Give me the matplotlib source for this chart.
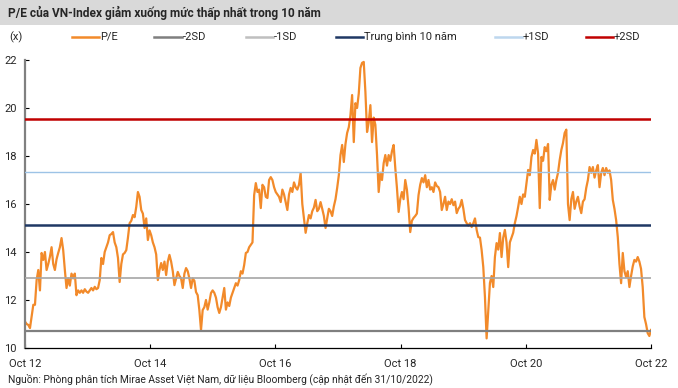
import pandas as pd
import matplotlib.pyplot as plt
from matplotlib.lines import Line2D

plt.rcParams['font.family'] = ['Roboto', 'DejaVu Sans']

# P/E of VN-Index (~every 10 days, Oct 2012 -> Oct 2022)
pe = [
    11.1, 11.0, 10.96, 10.83, 11.3, 11.8, 11.8, 12.83, 13.25, 12.4, 13.96, 13.67, 14.0, 13.25, 13.5, 13.8,
    14.2, 13.5, 13.25, 13.7, 13.96, 14.2, 14.58, 14.08, 13.25, 12.5, 12.9, 12.6, 13.1, 12.9, 13.1, 12.2,
    12.4, 12.3, 12.4, 12.3, 12.45, 12.35, 12.3, 12.4, 12.5, 12.4, 12.55, 12.45, 12.5, 12.83, 13.75, 13.5,
    14.0, 14.2, 14.4, 14.7, 14.75, 14.83, 14.4, 14.2, 13.75, 12.75, 13.5, 13.9, 13.96,
    14.08, 14.6, 15.2, 15.3, 15.54, 15.45, 15.88, 16.5, 16.3, 15.75, 15.6, 15.0, 15.4, 14.5, 14.9, 14.7,
    14.4, 14.2, 13.9, 12.83, 13.25, 13.54, 13.25, 13.6, 13.04, 13.6, 13.88, 13.6, 13.2, 12.62, 12.9, 13.17,
    13.0, 12.9, 12.5, 13.1, 13.33, 13.2, 12.9, 12.5, 12.9, 12.8, 12.33, 12.2, 11.58, 10.75, 11.58, 11.7,
    12.0, 11.6, 11.9, 12.29, 12.4, 12.3, 12.1, 11.7, 11.46, 11.7, 12.1, 12.5, 11.6, 11.9, 11.75, 12.1,
    12.3, 12.5,
    12.7, 12.6, 12.83, 13.2, 13.1, 13.46, 13.96, 14.0, 14.2, 14.3, 14.4,
    16.37, 16.87, 16.5, 16.6, 15.83, 16.8, 16.7, 16.3, 16.25, 17.0, 17.12, 17.0, 16.7, 16.5, 16.4, 16.3,
    16.08, 16.6, 16.4, 16.08, 15.75, 16.4, 16.67, 16.5, 16.9, 16.7, 16.6, 16.8, 17.29, 16.0, 15.4, 14.8,
    15.2, 15.54, 15.4, 15.7, 15.85, 16.17, 15.7, 15.8, 16.08, 15.8, 15.5, 15.0, 15.4, 15.8, 15.7, 15.5,
    15.9, 16.2, 16.67, 17.2,
    18.04, 18.46, 17.75, 18.5, 18.96, 19.2, 19.7, 20.54, 18.58, 20.2, 20.0, 20.6, 21.67, 21.88, 21.92, 20.67,
    19.0, 19.4, 20.12, 18.58, 19.6, 19.3, 18.04, 16.5, 17.3, 17.0, 17.7, 18.04, 17.6, 18.04, 17.8, 18.2,
    18.46, 17.5, 16.67, 15.67, 16.2, 16.5, 16.2, 17.0, 16.6, 15.83, 14.83, 15.3, 15.42, 15.5, 15.6, 16.37,
    16.8, 17.08, 16.9, 17.2, 16.7, 17.0, 16.6, 16.7, 16.5, 16.9, 16.75, 16.7, 16.5, 15.75, 16.0,
    16.3, 15.75, 16.1, 16.0, 16.2, 15.95, 16.1, 15.62, 15.8, 15.9, 16.17, 15.8, 15.33, 15.2, 15.1, 15.2,
    15.04, 15.2, 15.4, 14.92, 14.62, 14.6, 14.08, 13.37, 12.12, 10.4, 11.58, 12.71, 13.0, 12.54, 13.79, 14.37,
    14.1, 14.79, 13.79, 14.6, 14.92, 14.4, 13.37, 14.4, 14.6, 14.8, 15.2, 15.5, 15.88, 16.3, 16.0, 16.4,
    16.3, 16.87, 17.42, 17.2, 17.96, 18.25, 18.1, 18.67, 18.1, 15.83, 17.96, 17.8, 18.37, 18.2, 18.5,
    16.17, 16.8, 17.0, 16.6, 17.0, 17.3, 17.83, 18.25, 18.54, 18.96, 19.1, 16.0, 15.33, 16.2, 16.5, 15.8,
    16.1, 16.3, 15.9, 15.62, 16.1, 16.2, 16.67, 17.0, 17.54, 17.3, 17.54, 17.1, 17.4, 17.62, 16.7, 17.3,
    17.5, 17.2, 17.5, 17.3, 17.4, 17.0, 16.17, 15.8, 15.33, 14.62, 13.5, 12.7, 13.96, 13.2, 12.96, 13.2,
    12.54, 13.0, 13.4, 13.67, 13.6, 13.79, 13.6, 13.3, 12.54, 11.29, 11.0, 10.62, 10.5, 10.75,
]
start_date = '2012-10-31'
end_date = '2022-10-31'

# reference levels (x)
levels = {'-2SD': 10.71, '-1SD': 12.92, 'Trung bình 10 năm': 15.12, '+1SD': 17.33, '+2SD': 19.54}
level_colors = {'-2SD': '#7f7f7f', '-1SD': '#a6a6a6', 'Trung bình 10 năm': '#1f3864',
                '+1SD': '#9dc3e6', '+2SD': '#c00000'}
level_widths = {'-2SD': 1.6, '-1SD': 1.2, 'Trung bình 10 năm': 1.8, '+1SD': 1.0, '+2SD': 1.8}

tick_dates = ['2012-10-31', '2014-10-31', '2016-10-31', '2018-10-31', '2020-10-31', '2022-10-31']
tick_labels = ['Oct 12', 'Oct 14', 'Oct 16', 'Oct 18', 'Oct 20', 'Oct 22']

title = 'P/E của VN-Index giảm xuống mức thấp nhất trong 10 năm'
source = 'Nguồn: Phòng phân tích Mirae Asset Việt Nam, dữ liệu Bloomberg (cập nhật đến 31/10/2022)'

ORANGE = '#f28a2a'
TXT = '#262626'
W, H = 678, 388

dates = pd.date_range(start_date, end_date, periods=len(pe))

fig = plt.figure(figsize=(W / 100, H / 100), dpi=100)
ax = fig.add_axes([25 / W, 1 - 348 / H, (651 - 25) / W, (348 - 60) / H])

ax.plot(dates, pe, color=ORANGE, lw=1.6, zorder=2)
for name, val in levels.items():
    ax.axhline(val, color=level_colors[name], lw=level_widths[name], zorder=3)

ax.set_ylim(10, 22)
ax.set_yticks([10, 12, 14, 16, 18, 20, 22])
ax.set_xlim(dates[0], dates[-1])
ax.set_xticks(pd.to_datetime(tick_dates))
ax.set_xticklabels(tick_labels)

for s in ['top', 'right']:
    ax.spines[s].set_visible(False)
ax.spines['left'].set_color('#808080')
ax.spines['left'].set_linewidth(1.6)
ax.spines['bottom'].set_color('#000000')
ax.spines['bottom'].set_linewidth(0.9)
ax.tick_params(axis='both', direction='in', length=3, width=0.8, labelsize=8,
               labelcolor=TXT, color='#000000')
ax.tick_params(axis='y', pad=6)
ax.tick_params(axis='x', pad=8)

# title bar
fig.add_artist(plt.Rectangle((0, 1 - 25 / H), 1, 25 / H, transform=fig.transFigure,
                             facecolor='#d9d9d9', edgecolor='none', zorder=0))
fig.text(8 / W, 1 - 13 / H, title, fontsize=8.6, fontweight='bold', color=TXT, va='center')

# legend row
ly = 1 - 37 / H
fig.text(9 / W, ly, '(x)', fontsize=8, color=TXT, va='center')
leg_items = [('P/E', ORANGE, 72, 99), ('-2SD', '#7f7f7f', 154, 182), ('-1SD', '#bfbfbf', 246, 273),
             ('Trung bình 10 năm', '#1f3864', 336, 363), ('+1SD', '#bdd7ee', 495, 522),
             ('+2SD', '#c00000', 586, 613)]
for name, col, x0, x1 in leg_items:
    fig.add_artist(Line2D([x0 / W, x1 / W], [ly, ly], transform=fig.transFigure, color=col, lw=1.8))
    fig.text((x1 + 1) / W, ly, name, fontsize=8, color=TXT, va='center')

fig.text(8 / W, 1 - 380 / H, source, fontsize=7.4, color=TXT, va='center')

fig.savefig('out.png', dpi=100)
